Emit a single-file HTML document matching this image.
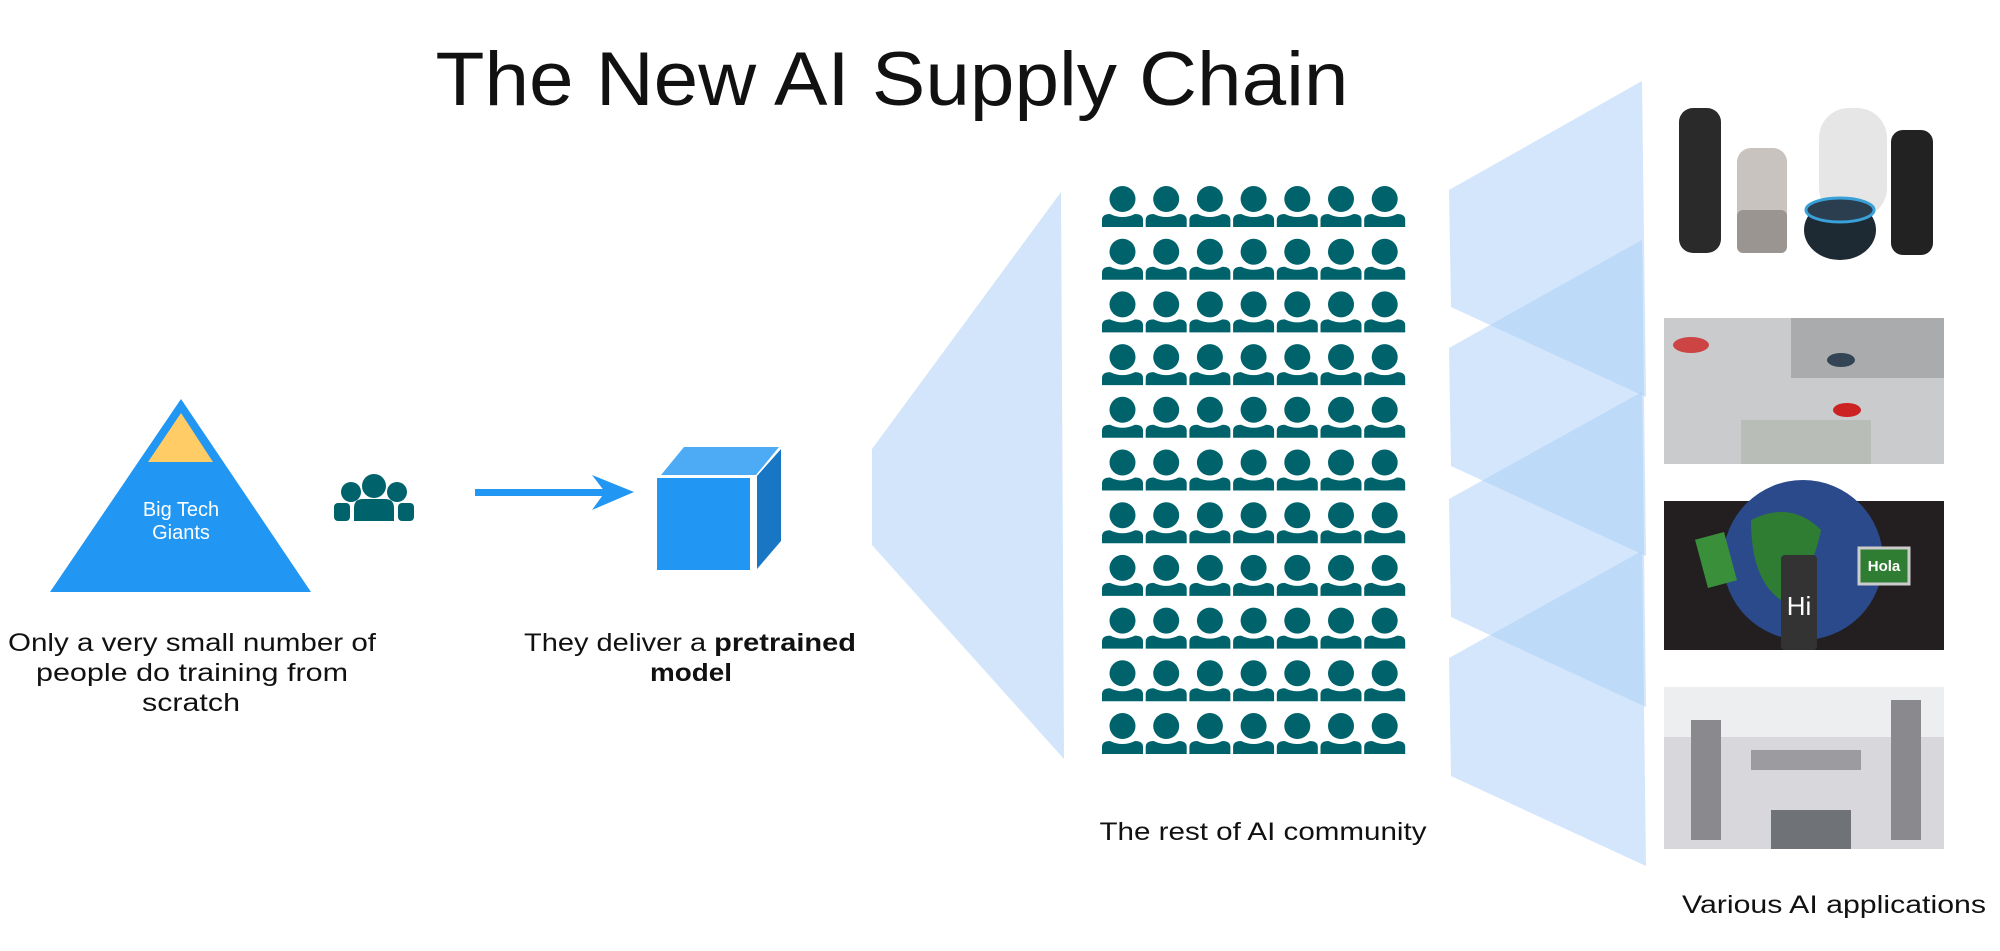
<!DOCTYPE html>
<html><head><meta charset="utf-8"><style>
html,body{margin:0;padding:0;background:#fff;}
svg{display:block;}
text{font-family:"Liberation Sans",sans-serif;fill:#111;}
</style></head><body>
<svg width="2000" height="951" viewBox="0 0 2000 951" xmlns="http://www.w3.org/2000/svg">
<defs>
<g id="p">
<circle cx="20.5" cy="13" r="13" fill="#00636B"/>
<path d="M0,41 V34 Q0,28 8,28 Q20.5,34 33,28 Q41,28 41,34 V41 Z" fill="#00636B"/>
</g>
<g id="row">
<use href="#p" x="0"/><use href="#p" x="43.7"/><use href="#p" x="87.4"/><use href="#p" x="131.1"/><use href="#p" x="174.8"/><use href="#p" x="218.5"/><use href="#p" x="262.2"/>
</g>
</defs>

<text x="892" y="105" font-size="76" text-anchor="middle" textLength="913" lengthAdjust="spacingAndGlyphs">The New AI Supply Chain</text>

<polygon points="181,399 311,592 50,592" fill="#2196F3"/>
<polygon points="181,413 213,462 148,462" fill="#FFCC66"/>
<text x="181" y="516" font-size="20" text-anchor="middle" style="fill:#fff">Big Tech</text>
<text x="181" y="539" font-size="20" text-anchor="middle" style="fill:#fff">Giants</text>

<g fill="#00636B">
<circle cx="374" cy="486" r="12"/>
<circle cx="351" cy="492" r="10"/>
<circle cx="397" cy="492" r="10"/>
<rect x="334" y="503" width="16" height="18" rx="4"/>
<rect x="398" y="503" width="16" height="18" rx="4"/>
<path d="M354,521 V508 Q354,499 363,499 H385 Q394,499 394,508 V521 Z"/>
</g>

<rect x="475" y="489" width="130" height="7" fill="#2196F3"/>
<polygon points="592,475 634,492 592,510 605,492" fill="#2196F3"/>

<polygon points="661,475 684,447 779,447 756,475" fill="#4DABF5"/>
<polygon points="757,476 781,449 781,541 757,569" fill="#1976C4"/>
<rect x="657" y="478" width="93" height="92" fill="#2196F3"/>

<polygon points="872,449 1061,192 1064,759 872,545" fill="#D2E5FB"/>

<g transform="translate(1102,186)">
<use href="#row" y="0"/><use href="#row" y="52.7"/><use href="#row" y="105.4"/><use href="#row" y="158.1"/><use href="#row" y="210.8"/><use href="#row" y="263.5"/><use href="#row" y="316.2"/><use href="#row" y="368.9"/><use href="#row" y="421.6"/><use href="#row" y="474.3"/><use href="#row" y="527"/>
</g>

<g fill="#A7CDF8" fill-opacity="0.5">
<polygon points="1449,190 1642,81 1646,397 1451,307"/>
<polygon points="1449,348 1642,240 1646,556 1451,466"/>
<polygon points="1449,499 1642,392 1646,707 1451,617"/>
<polygon points="1449,658 1642,551 1646,866 1451,776"/>
</g>

<g transform="translate(-9,0)">
<rect x="1688" y="108" width="42" height="145" rx="14" fill="#2a2a2a"/>
<rect x="1746" y="148" width="50" height="105" rx="14" fill="#c9c3c0"/>
<rect x="1746" y="210" width="50" height="43" rx="6" fill="#9b9592"/>
<rect x="1828" y="108" width="68" height="110" rx="30" fill="#e6e6e6"/>
<rect x="1900" y="130" width="42" height="125" rx="12" fill="#222"/>
<ellipse cx="1849" cy="230" rx="36" ry="30" fill="#1e2a33"/>
<ellipse cx="1849" cy="210" rx="34" ry="12" fill="#2a3e50" stroke="#3aa0d8" stroke-width="3"/>
<rect x="1673" y="318" width="280" height="146" fill="#c9cbcd"/>
<rect x="1800" y="318" width="153" height="60" fill="#a9abad"/>
<rect x="1750" y="420" width="130" height="44" fill="#b9bdb8"/>
<ellipse cx="1700" cy="345" rx="18" ry="8" fill="#c44"/>
<ellipse cx="1856" cy="410" rx="14" ry="7" fill="#c22"/>
<ellipse cx="1850" cy="360" rx="14" ry="7" fill="#345"/>
<rect x="1673" y="501" width="280" height="149" fill="#231f20"/>
<circle cx="1812" cy="560" r="80" fill="#2b4a8c"/>
<path d="M1760,520 Q1800,500 1830,530 Q1820,580 1790,600 Q1760,580 1760,520Z" fill="#2e7d32"/>
<rect x="1710" y="535" width="30" height="50" fill="#3a8f3a" transform="rotate(-15 1725 560)"/>
<rect x="1868" y="548" width="50" height="36" fill="#2e7d32" stroke="#ccc" stroke-width="3"/>
<text x="1893" y="571" font-size="15" text-anchor="middle" style="fill:#fff;font-weight:bold">Hola</text>
<rect x="1790" y="555" width="36" height="95" rx="4" fill="#333"/>
<text x="1808" y="615" font-size="26" text-anchor="middle" style="fill:#fff">Hi</text>
<rect x="1673" y="687" width="280" height="162" fill="#d8d8dc"/>
<rect x="1673" y="687" width="280" height="50" fill="#eceef0"/>
<rect x="1700" y="720" width="30" height="120" fill="#8a8a8e"/>
<rect x="1900" y="700" width="30" height="140" fill="#8a8a8e"/>
<rect x="1760" y="750" width="110" height="20" fill="#9c9ca0"/>
<rect x="1780" y="810" width="80" height="39" fill="#6f7378"/>
</g>

<text x="192" y="651" font-size="25" text-anchor="middle" textLength="368" lengthAdjust="spacingAndGlyphs">Only a very small number of</text>
<text x="192" y="681" font-size="25" text-anchor="middle" textLength="312" lengthAdjust="spacingAndGlyphs">people do training from</text>
<text x="191" y="711" font-size="25" text-anchor="middle" textLength="98" lengthAdjust="spacingAndGlyphs">scratch</text>
<text x="690" y="651" font-size="25" text-anchor="middle" textLength="332" lengthAdjust="spacingAndGlyphs">They deliver a <tspan font-weight="bold">pretrained</tspan></text>
<text x="691" y="681" font-size="25" text-anchor="middle" font-weight="bold" textLength="82" lengthAdjust="spacingAndGlyphs">model</text>
<text x="1263" y="840" font-size="25" text-anchor="middle" textLength="327" lengthAdjust="spacingAndGlyphs">The rest of AI community</text>
<text x="1834" y="913" font-size="25" text-anchor="middle" textLength="304" lengthAdjust="spacingAndGlyphs">Various AI applications</text>
</svg>
</body></html>
